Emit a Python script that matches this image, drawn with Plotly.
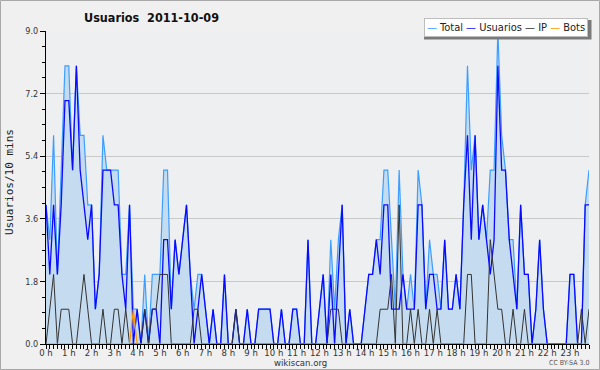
import plotly.graph_objects as go

# 10-minute slots across the day (0 h .. 23 h 50)
slots = list(range(144))
hour_labels = [f"{h} h" for h in range(24)]
y_ticks = [0.0, 1.8, 3.6, 5.4, 7.2, 9.0]
y_tick_labels = ["0.0", "1.8", "3.6", "5.4", "7.2", "9.0"]

total = [4,3,6,2,5,8,8,5,8,6, 6,4,4,1,2,6,5,5,5,5, 2,2,4,1,1,0,2,0,2,2,
         2,5,5,1,3,2,3,4,2,1, 2,2,1,0,1,0,0,2,0,0, 1,0,0,1,0,0,1,1,1,1,
         0,0,1,0,0,1,1,0,0,3, 0,0,1,2,0,3,1,3,4,0, 1,0,0,0,1,2,2,3,3,5,
         5,3,1,5,2,1,2,1,5,4, 1,3,2,2,1,3,1,1,2,1, 4,8,5,6,3,4,3,5,5,9,
         6,5,3,3,1,4,2,2,0,1, 3,1,0,0,0,0,0,0,2,2, 0,0,4,5]
usuarios = [4,2,4,2,4,7,7,5,8,5, 4,3,4,1,2,5,5,5,4,4, 2,1,4,0,1,0,1,0,1,1,
            0,3,3,1,3,2,3,4,2,0, 1,2,1,0,1,0,0,2,0,0, 1,0,0,1,0,0,1,1,1,1,
            0,0,1,0,0,1,1,0,0,3, 0,0,1,2,0,2,0,2,4,0, 1,0,0,0,1,2,2,3,2,4,
            4,1,1,1,2,1,1,1,4,4, 1,2,2,1,1,3,1,1,2,1, 4,6,3,6,3,4,3,2,3,8,
            5,5,3,2,1,4,2,2,0,1, 3,1,0,0,0,0,0,0,2,2, 0,0,4,4]
ip = [0,1,2,0,1,1,1,0,0,1, 2,1,0,0,0,1,0,0,1,1, 0,1,0,0,0,0,1,0,1,1,
      2,2,2,0,0,0,0,0,0,1, 1,0,0,0,0,0,0,0,0,0, 1,0,0,0,0,0,0,0,0,0,
      0,0,0,0,0,0,0,0,0,0, 0,0,0,0,0,1,1,1,0,0, 0,0,0,0,0,0,0,0,1,1,
      1,2,0,4,0,0,1,0,1,0, 0,1,0,1,0,0,0,0,0,0, 0,2,2,0,0,0,0,3,2,1,
      1,0,0,1,0,0,1,0,0,0, 0,0,0,0,0,0,0,0,0,0, 0,1,0,1]
bots = [0]*23 + [1] + [0]*120

# plot-area geometry in pixels (for placing extra text)
L, R, T, B = 46, 589, 31, 344
W, H = R - L, B - T
def px(x): return (x - L) / W
def py(y): return (B - y) / H

FONT = "DejaVu Sans Condensed, DejaVu Sans, sans-serif"

fig = go.Figure()
fig.add_trace(go.Scatter(x=slots, y=total, mode="lines", name="Total",
                         line=dict(color="#3d9eff", width=1.2),
                         fill="tozeroy", fillcolor="#c5dcf0"))
fig.add_trace(go.Scatter(x=slots, y=usuarios, mode="lines", name="Usuarios",
                         line=dict(color="#0a0aff", width=1.3)))
fig.add_trace(go.Scatter(x=slots, y=ip, mode="lines", name="IP",
                         line=dict(color="#333333", width=1)))
fig.add_trace(go.Scatter(x=slots, y=bots, mode="lines", name="Bots",
                         line=dict(color="#ff9900", width=1.2)))

fig.update_layout(
    width=600, height=370, autosize=False,
    margin=dict(l=L, r=600 - R, t=T, b=370 - B, pad=0, autoexpand=False),
    paper_bgcolor="#f0f0f0", plot_bgcolor="#eeeff1",
    showlegend=False,
    font=dict(family=FONT, size=9, color="#333333"),
    xaxis=dict(range=[0, 143], tickmode="array", automargin=False,
               tickvals=[6 * h for h in range(24)], ticktext=hour_labels,
               ticks="outside", ticklen=4, tickcolor="#000", tickwidth=1,
               ticklabelstandoff=-4,
               minor=dict(dtick=1, ticks="outside", ticklen=4, tickcolor="#000"),
               showline=True, linecolor="#000", linewidth=1,
               showgrid=False, zeroline=False,
               tickfont=dict(size=9.5, color="#333")),
    yaxis=dict(range=[0, 9], tickmode="array", tickvals=y_ticks, automargin=False,
               ticktext=y_tick_labels,
               ticks="outside", ticklen=5, tickcolor="#000", tickwidth=1,
               minor=dict(dtick=0.45, ticks="outside", ticklen=3, tickcolor="#000",
                          showgrid=False),
               showline=True, linecolor="#000", linewidth=1,
               showgrid=True, gridcolor="#c8c8c8", gridwidth=1, zeroline=False,
               tickfont=dict(size=9, color="#333")),
)

shapes = [
    # outer frame
    dict(type="rect", xref="paper", yref="paper",
         x0=px(0.5), x1=px(599.5), y0=py(369.5), y1=py(0.5),
         line=dict(color="#a8a8a8", width=1), layer="below"),
    # legend shadow
    dict(type="rect", xref="paper", yref="paper",
         x0=px(424), x1=px(591.5), y0=py(39.5), y1=py(20),
         fillcolor="#7a7a7a", line=dict(width=0), layer="above"),
]
fig.update_layout(shapes=shapes)

legend_text = ("<span style='color:#3d9eff'>—</span> Total "
               "<span style='color:#0a0aff'>—</span> Usuarios "
               "<span style='color:#333333'>—</span> IP "
               "<span style='color:#ff9900'>—</span> Bots")

annotations = [
    dict(text="<b>Usuarios  2011-10-09</b>", xref="paper", yref="paper",
         x=px(151), y=py(17), xanchor="center", yanchor="middle",
         showarrow=False, font=dict(family=FONT, size=12.5, color="#111")),
    dict(text=legend_text, xref="paper", yref="paper",
         x=px(588), y=py(18), xanchor="right", yanchor="top",
         showarrow=False, bgcolor="#ffffff", bordercolor="#bdbdbd",
         borderwidth=1, borderpad=2,
         font=dict(family=FONT, size=11, color="#222")),
    dict(text="Usuarios/10 mins", xref="paper", yref="paper",
         x=px(9), y=py(182), xanchor="center", yanchor="middle",
         textangle=-90, showarrow=False,
         font=dict(family="DejaVu Sans Mono, monospace", size=11, color="#222")),
    dict(text="wikiscan.org", xref="paper", yref="paper",
         x=px(300), y=py(362.5), xanchor="center", yanchor="middle",
         showarrow=False, font=dict(family=FONT, size=9.5, color="#333")),
    dict(text="CC BY-SA 3.0", xref="paper", yref="paper",
         x=px(569), y=py(362.5), xanchor="center", yanchor="middle",
         showarrow=False, font=dict(family=FONT, size=7, color="#555")),
]
fig.update_layout(annotations=annotations)

post = ("document.documentElement.style.margin='0';"
        "document.documentElement.style.overflow='hidden';"
        "document.body.style.margin='0';"
        "document.body.style.overflow='hidden';"
        "document.body.style.height='370px';"
        "var gd=document.getElementById('{plot_id}');"
        "gd.style.display='block';"
        "if(gd.parentElement){gd.parentElement.style.height='370px';"
        "gd.parentElement.style.overflow='hidden';"
        "gd.parentElement.style.display='block';}")

fig.write_html("out.html", config={"displayModeBar": False},
               post_script=post)
